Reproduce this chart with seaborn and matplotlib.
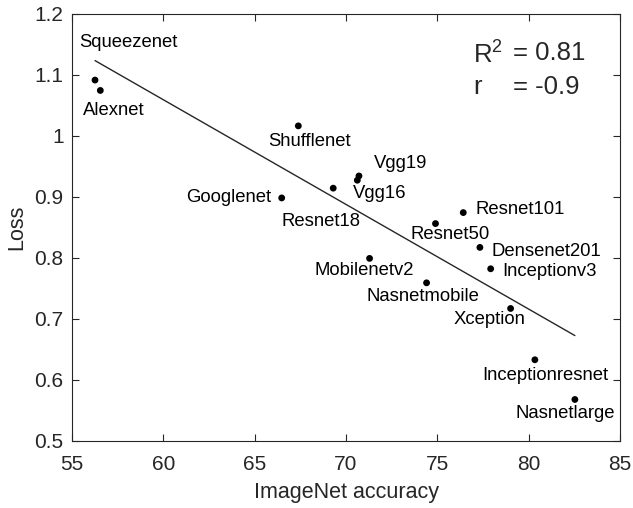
import numpy as np
import pandas as pd
import matplotlib
matplotlib.use("Agg")
import matplotlib.pyplot as plt
import seaborn as sns

# values
models = ['Squeezenet', 'Alexnet', 'Shufflenet', 'Googlenet', 'Resnet18', 'Vgg19', 'Vgg16',
          'Resnet101', 'Resnet50', 'Densenet201', 'Inceptionv3', 'Mobilenetv2', 'Nasnetmobile',
          'Xception', 'Inceptionresnet', 'Nasnetlarge']
accuracy = [56.26, 56.55, 67.39, 66.48, 69.3, 70.71, 70.62,
            76.42, 74.9, 77.33, 77.92, 71.29, 74.41,
            79.01, 80.34, 82.53]
loss = [1.091, 1.074, 1.016, 0.898, 0.914, 0.934, 0.927,
        0.874, 0.856, 0.817, 0.782, 0.799, 0.759,
        0.717, 0.633, 0.568]

df = pd.DataFrame({'model': models, 'accuracy': accuracy, 'loss': loss})

"""label placement: (ha, dx, dy) in pixels relative to the dot"""
label_pos = {
    'Squeezenet': ('center', 33, 38),
    'Alexnet': ('center', 13, -20),
    'Shufflenet': ('center', 11, -16),
    'Googlenet': ('right', -10, 0),
    'Resnet18': ('center', -12, -33),
    'Vgg19': ('left', 15, 12),
    'Vgg16': ('left', -4, -13),
    'Resnet101': ('left', 12, 3),
    'Resnet50': ('center', 15, -11),
    'Densenet201': ('left', 12, -4),
    'Inceptionv3': ('left', 12, -3),
    'Mobilenetv2': ('center', -5, -12),
    'Nasnetmobile': ('center', -4, -14),
    'Xception': ('center', -21, -11),
    'Inceptionresnet': ('center', 10, -16),
    'Nasnetlarge': ('center', -10, -14),
}

sns.set_style('ticks')
plt.rcParams['font.family'] = ['Liberation Sans', 'DejaVu Sans']
plt.rcParams['mathtext.fontset'] = 'custom'
plt.rcParams['mathtext.rm'] = 'Liberation Sans'

gray = '#262626'
fig = plt.figure(figsize=(6.33, 5.08), dpi=100)
ax = fig.add_axes([72 / 633, 1 - 441 / 508, 548 / 633, 427.5 / 508])

sns.regplot(x='accuracy', y='loss', data=df, ax=ax, ci=None, scatter=False, truncate=True,
            line_kws={'color': gray, 'lw': 1.0})
sns.scatterplot(x='accuracy', y='loss', data=df, ax=ax, color='black', s=24, edgecolor='none')

for m, xv, yv in zip(models, accuracy, loss):
    ha, dx, dy = label_pos[m]
    ax.annotate(m, (xv, yv), xytext=(dx, dy), textcoords='offset pixels',
                ha=ha, va='center', fontsize=13.3, color='black')

# correlation stats in the corner
ax.text(0.732, 0.907, r'R$^{\mathregular{2}}$', transform=ax.transAxes, fontsize=18.5, va='center', ha='left')
ax.text(0.805, 0.907, '= 0.81', transform=ax.transAxes, fontsize=18.5, va='center', ha='left')
ax.text(0.732, 0.829, 'r', transform=ax.transAxes, fontsize=18.5, va='center', ha='left')
ax.text(0.805, 0.829, '= -0.9', transform=ax.transAxes, fontsize=18.5, va='center', ha='left')

ax.set_xlim(55, 85)
ax.set_ylim(0.5, 1.2)
ax.set_xticks([55, 60, 65, 70, 75, 80, 85])
ax.set_yticks([0.5, 0.6, 0.7, 0.8, 0.9, 1.0, 1.1, 1.2])
ax.set_yticklabels(['0.5', '0.6', '0.7', '0.8', '0.9', '1', '1.1', '1.2'])
ax.tick_params(direction='in', top=True, right=True, length=5, width=0.8,
               labelsize=15, colors=gray)
ax.tick_params(axis='x', pad=10)
ax.tick_params(axis='y', pad=6)
for s in ax.spines.values():
    s.set_visible(True)
    s.set_color(gray)
    s.set_linewidth(0.8)
ax.set_xlabel('ImageNet accuracy', fontsize=15.5, color=gray, labelpad=6)
ax.set_ylabel('Loss', fontsize=15.5, color=gray, labelpad=5)

fig.savefig('out.png', dpi=100)
